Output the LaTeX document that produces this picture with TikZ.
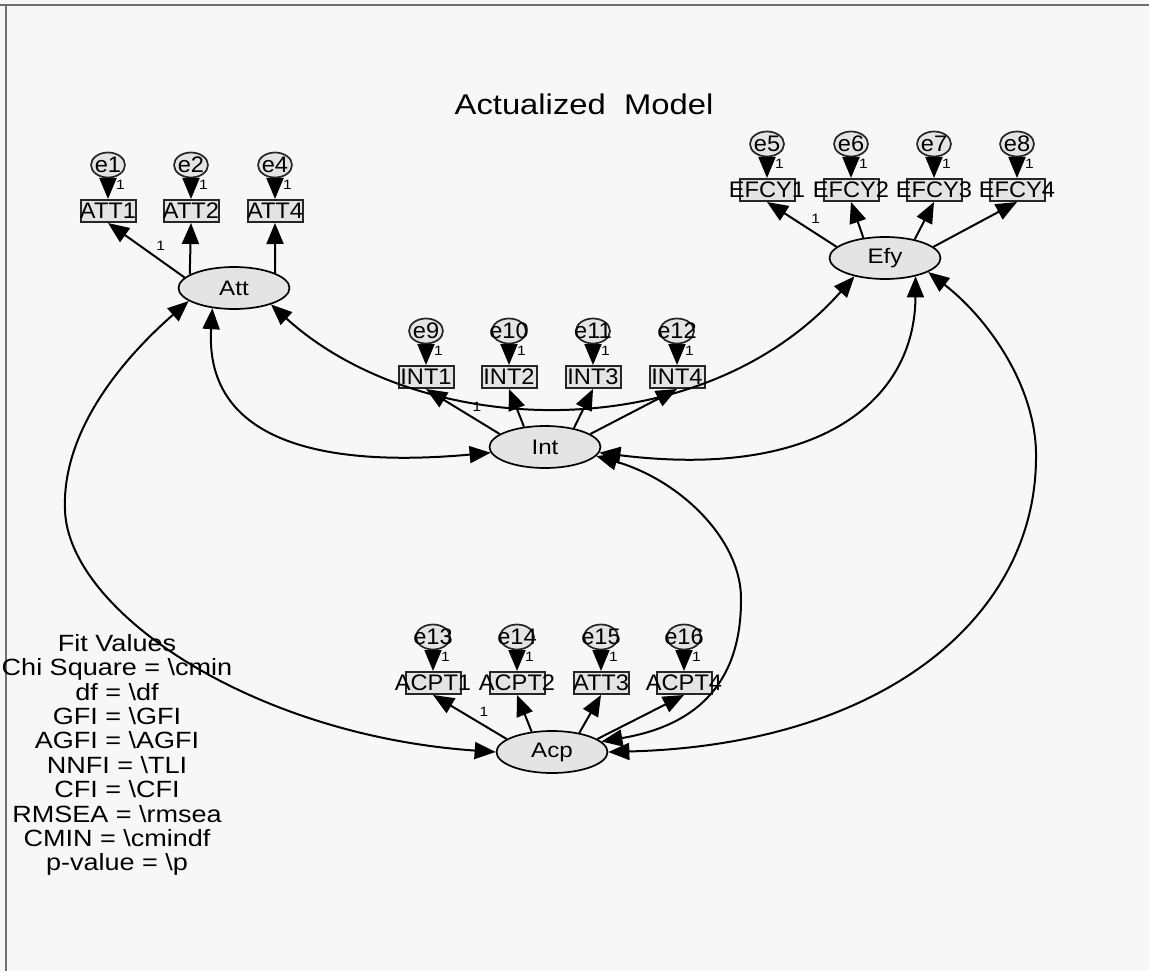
\documentclass[tikz,border=0pt]{standalone}
\usepackage{fontspec}
\setmainfont{Liberation Sans}[FakeStretch=1.15]
\newfontfamily\boxfont{Liberation Sans}[FakeStretch=1.05]
\usetikzlibrary{arrows.meta,shapes.geometric,calc}
\definecolor{bgc}{HTML}{F7F7F7}
\definecolor{nodefill}{HTML}{E4E4E4}
\definecolor{framec}{HTML}{6E6E6E}
\begin{document}
\begin{tikzpicture}[x=1pt,y=-1pt,
  lat/.style={ellipse,draw=black,line width=1.7pt,fill=nodefill,minimum width=111pt,minimum height=42pt,inner sep=0pt,font=\fontsize{21}{22}\selectfont},
  obs/.style={rectangle,draw=black!85,line width=2pt,fill=nodefill,minimum width=55pt,minimum height=22pt,inner sep=0pt},
  err/.style={ellipse,draw=black!85,line width=1.7pt,fill=nodefill,minimum width=34pt,minimum height=25pt,inner sep=0pt},
  lbl/.style={font=\boxfont\fontsize{22.5}{24}\selectfont,inner sep=0pt},
  one/.style={font=\fontsize{13.5}{14}\selectfont,inner sep=0pt},
  tip/.tip={Triangle[length=21pt,width=17pt]},
  reg/.style={line width=2pt,-tip},
  cov/.style={line width=2pt,tip-tip}]
\useasboundingbox (0,0) rectangle (1149,971);
\fill[bgc] (0,0) rectangle (1149,971);
\draw[framec,line width=1.5pt] (0,5) -- (1149,5);
\draw[framec,line width=1.5pt] (6,5) -- (6,971);

\node[font=\fontsize{28.5}{30}\selectfont] (title) at (584,104) {Actualized\ \ Model};

% latent variables
\node[lat] (Att) at (234,288) {Att};
\node[lat] (Efy) at (885,258) {Efy};
\node[lat] (Int) at (545,447) {Int};
\node[lat] (Acp) at (552,752) {Acp};

% observed boxes and errors
\foreach \n/\t/\e/\el/\x/\y in {ATT1/ATT1/e1/e1/108/211, ATT2/ATT2/e2/e2/191/211, ATT4/ATT4/e4/e4/275/211,
  EFCY1/EFCY1/e5/e5/767/190, EFCY2/EFCY2/e6/e6/851/190, EFCY3/EFCY3/e7/e7/934/190, EFCY4/EFCY4/e8/e8/1017/190,
  INT1/INT1/e9/e9/426/377, INT2/INT2/e10/e10/509/377, INT3/INT3/e11/e11/593/377, INT4/INT4/e12/e12/677/377,
  ACPT1/ACPT1/e13/e13/433/683, ACPT2/ACPT2/e14/e14/517/683, ATT3/ATT3/e15/e15/601/683, ACPT4/ACPT4/e16/e16/684/683}{
  \node[obs,label={[lbl]center:\t}] (\n) at (\x,\y) {};
  \node[err,label={[lbl]center:\el}] (\e) at (\x,\y-46) {};
  \draw[reg] (\e) -- node[one,pos=0.05,anchor=north west,xshift=7pt] {1} (\n);
}

% loadings
\draw[reg] (Att.168) -- node[one,pos=0.42,above right=3pt] {1} (ATT1.south);
\draw[reg] (Att.163) -- (ATT2.south);
\draw[reg] (Att.20) -- (ATT4.south);

\draw[reg] (Efy.167) -- node[one,pos=0.42,above right=3pt] {1} (EFCY1.south);
\draw[reg] (Efy.137) -- (EFCY2.south);
\draw[reg] (Efy.32) -- (EFCY3.south);
\draw[reg] (Efy.13) -- (EFCY4.south);

\draw[reg] (Int.164) -- node[one,pos=0.42,above right=3pt] {1} (INT1.south);
\draw[reg] (Int.136) -- (INT2.south);
\draw[reg] (Int.33) -- (INT3.south);
\draw[reg] (Int.16) -- (INT4.south);

\draw[reg] (Acp.164) -- node[one,pos=0.42,above right=3pt] {1} (ACPT1.south);
\draw[reg] (Acp.135) -- (ACPT2.south);
\draw[reg] (Acp.35) -- (ATT3.south);
\draw[reg] (Acp.16) -- (ACPT4.south);

% covariances
\draw[cov] (Att.-24) .. controls (420,440) and (700,450) .. (Efy.-149);
\draw[cov] (Att.-137) .. controls (205,430) and (300,470) .. (Int.186);
\draw[cov] (Efy.-31) .. controls (915,400) and (820,480) .. (Int.-6);
\draw[cov] (Att.196) .. controls (110,370) and (62,440) .. (65,510) .. controls (68,610) and (250,735) .. (Acp.180);
\draw[cov] (Efy.-18) .. controls (990,320) and (1038,390) .. (1036,460) .. controls (1034,620) and (880,745) .. (Acp.0);
\draw[cov] (Int.-10) .. controls (680,480) and (742,540) .. (741,600) .. controls (741,680) and (700,725) .. (Acp.12);

% fit values
\node[align=center,anchor=north,inner sep=0pt,font=\fontsize{23.5}{24.4}\selectfont] (fit) at (117,634)
 {Fit Values\\Chi Square = \textbackslash cmin\\df = \textbackslash df\\GFI = \textbackslash GFI\\AGFI = \textbackslash AGFI\\NNFI = \textbackslash TLI\\CFI = \textbackslash CFI\\RMSEA = \textbackslash rmsea\\CMIN = \textbackslash cmindf\\p-value = \textbackslash p};
\end{tikzpicture}
\end{document}
